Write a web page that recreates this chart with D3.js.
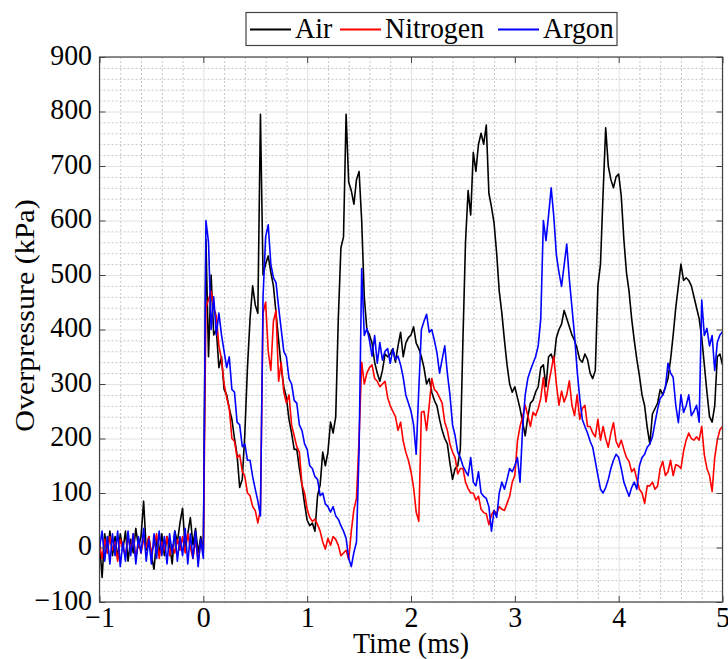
<!DOCTYPE html>
<html>

<head>
  <meta charset="utf-8">
  <title>Overpressure</title>
  <script src='https://d3js.org/d3.v7.min.js'></script>
  <style>
    body {
      margin: 0;
      background: white;
    }

    .minor line {
      stroke: #c6c6c6;
      stroke-dasharray: 2, 2;
    }

    .major line {
      stroke: #e2e2e2;
    }

    .grid .domain,
    .ticks .domain {
      stroke: none;
    }

    .ticks line {
      stroke: #444;
    }
  </style>
</head>

<body>
  <svg id="canvas" width="728" height="659"></svg>

  <script>
    // sampling times (ms): every 0.025 ms from -1 to 5
    const timeMs = d3.range(241).map(i => -1 + i * 0.025);

    // overpressure (kPa), one row = 0.25 ms
    const air = [
      10, -55, 25, -10, 30, -15, 20, -20, 25, -5,
      30, -25, 15, -10, 35, 0, 20, 85, -5, 20,
      -15, -40, 15, -10, 25, -15, 20, 5, -30, 30,
      10, 45, 72, 0, 25, 55, 5, 35, -10, 20,
      -5, 565, 350, 500, 390, 400, 330, 350, 290, 280,
      255, 235, 200, 170, 110, 125, 210, 330, 420, 480,
      445, 430, 795, 500, 520, 535, 505, 480, 430, 380,
      330, 295, 275, 235, 210, 180, 180, 145, 115, 80,
      50, 40, 45, 30, 95, 115, 175, 150, 175, 230,
      210, 240, 420, 550, 570, 795, 670, 655, 630, 675,
      690, 600, 460, 400, 390, 375, 340, 320, 305, 325,
      355, 350, 355, 365, 340, 370, 395, 350, 375, 385,
      390, 405, 375, 365, 350, 330, 300, 310, 285, 270,
      260, 235, 215, 200, 190, 155, 125, 145, 150, 180,
      380, 560, 655, 610, 725, 690, 740, 760, 740, 775,
      650, 625, 595, 540, 470, 430, 380, 335, 300, 285,
      295, 275, 255, 230, 205, 240, 265, 270, 285, 295,
      330, 335, 295, 350, 355, 340, 385, 400, 410, 435,
      420, 405, 390, 380, 365, 345, 340, 355, 345, 320,
      310, 325, 480, 520, 650, 770, 700, 675, 660, 680,
      685, 645, 565, 505, 470, 420, 380, 345, 315, 280,
      260, 220, 190, 245, 255, 265, 290, 280, 295, 310,
      345, 390, 440, 480, 520, 490, 495, 490, 480, 460,
      440, 420, 385, 335, 285, 240, 230, 260, 350, 355,
      335
    ];

    const nitrogen = [
      5, -20, 15, -10, 20, -5, 10, -25, 15, 0,
      -15, 20, -5, 25, -20, 10, -10, 15, 0, 20,
      -10, 5, 25, -20, 10, -5, 20, -15, 5, -10,
      15, -5, 20, -10, 25, 0, -20, 15, -25, 10,
      -10, 440, 455, 470, 440, 425, 370, 345, 300, 275,
      255, 200, 195, 165, 170, 140, 130, 100, 95, 75,
      68, 45, 70, 430, 450, 360, 325, 415, 435, 305,
      340, 285, 265, 280, 225, 205, 185, 175, 115, 100,
      70, 55, 48, 52, 42, 30, 10, -3, 17, 4,
      20, 15, 4, -15, -10, -5, -22, 30, 70, 90,
      200, 340, 300, 320, 330, 335, 310, 305, 295, 300,
      305, 275, 260, 250, 240, 215, 230, 195, 175, 160,
      139, 110, 65, 48, 248, 250, 215, 260, 310, 290,
      285, 275, 265, 230, 215, 190, 175, 165, 135, 145,
      145, 120, 108, 100, 100, 87, 94, 70, 64, 62,
      42, 60, 68, 62, 75, 70, 68, 81, 94, 120,
      132, 195, 222, 240, 261, 242, 222, 248, 242, 255,
      274, 312, 267, 300, 325, 351, 300, 261, 287, 267,
      280, 306, 261, 242, 280, 235, 255, 261, 222, 222,
      210, 203, 235, 197, 222, 200, 184, 210, 229, 195,
      184, 197, 180, 165, 158, 139, 145, 125, 107, 100,
      81, 113, 113, 120, 107, 113, 145, 158, 132, 139,
      160, 132, 152, 150, 145, 177, 197, 210, 200, 197,
      203, 197, 222, 170, 145, 132, 103, 165, 197, 216,
      222
    ];

    const argon = [
      0, 30, -25, 20, -30, 25, -15, 30, -35, 10,
      -25, 30, -15, 25, -30, 20, -10, 35, -25, 15,
      -30, 25, -20, 30, -15, 20, -30, 25, -10, 30,
      -25, 20, -15, 35, -30, 25, -20, 30, -35, 15,
      -20, 600, 560, 400, 460, 390, 430, 390, 360, 330,
      350, 290, 285, 230, 225, 185, 190, 160, 160, 130,
      107, 85, 58, 460, 570, 592, 520, 495, 486, 441,
      400, 360, 350, 310, 300, 270, 265, 225, 215, 190,
      180, 150, 145, 130, 125, 95, 100, 80, 75, 65,
      75, 58, 52, 40, 30, 17, -20, -35, -9, 10,
      180, 512, 389, 402, 380, 351, 389, 338, 376, 344,
      360, 365, 338, 364, 345, 351, 335, 312, 280, 265,
      250, 225, 171, 290, 400, 415, 428, 395, 400, 380,
      357, 320, 345, 370, 320, 280, 225, 205, 175, 165,
      150, 140, 132, 165, 120, 113, 139, 100, 94, 90,
      75, 30, 68, 55, 100, 120, 107, 125, 145, 139,
      150, 165, 120, 220, 280, 310, 325, 338, 350, 370,
      420, 600, 563, 610, 660, 608, 537, 505, 479, 518,
      557, 492, 441, 389, 325, 274, 235, 222, 210, 195,
      184, 158, 132, 107, 100, 110, 125, 145, 160, 171,
      165, 145, 120, 107, 94, 110, 120, 107, 150, 165,
      171, 184, 190, 203, 229, 254, 274, 280, 293, 338,
      320, 312, 261, 229, 280, 248, 260, 280, 242, 250,
      261, 230, 454, 389, 402, 370, 389, 325, 376, 390,
      396
    ];

    const seriesNames = ['Air', 'Nitrogen', 'Argon'];
    const seriesColors = ['black', 'red', 'blue'];
    const seriesValues = [air, nitrogen, argon];

    const xTicks = [-1, 0, 1, 2, 3, 4, 5];
    const yTicks = [-100, 0, 100, 200, 300, 400, 500, 600, 700, 800, 900];

    /** Dimensions and Scales */
    const svg = d3.select('svg#canvas');
    const margins = { top: 57, right: 5.5, bottom: 57, left: 99.5 };
    const chartWidth = 728 - margins.left - margins.right;
    const chartHeight = 659 - margins.top - margins.bottom;
    const serif = "'Liberation Serif', 'Times New Roman', 'DejaVu Serif', serif";
    const squeeze = 'scale(0.93,1)';

    const xScale = d3.scaleLinear().domain([-1, 5]).range([0, chartWidth]);
    const yScale = d3.scaleLinear().domain([-100, 900]).range([chartHeight, 0]);

    const chartArea = svg.append('g')
      .attr('transform', `translate(${margins.left}, ${margins.top})`);

    // minor grid every 0.2 ms and 20 kPa
    const xMinor = d3.range(-1, 5.001, 0.2).filter(v => Math.abs(v - Math.round(v)) > 0.01);
    const yMinor = d3.range(-100, 900.1, 20).filter(v => v % 100 !== 0);

    chartArea.append('g').attr('class', 'grid minor')
      .call(d3.axisBottom(xScale).tickValues(xMinor).tickSize(chartHeight).tickFormat(''));
    chartArea.append('g').attr('class', 'grid minor')
      .call(d3.axisLeft(yScale).tickValues(yMinor).tickSize(-chartWidth).tickFormat(''));
    chartArea.append('g').attr('class', 'grid major')
      .call(d3.axisBottom(xScale).tickValues(xTicks).tickSize(chartHeight).tickFormat(''));
    chartArea.append('g').attr('class', 'grid major')
      .call(d3.axisLeft(yScale).tickValues(yTicks).tickSize(-chartWidth).tickFormat(''));

    /** Traces */
    chartArea.append('clipPath').attr('id', 'clip')
      .append('rect').attr('width', chartWidth).attr('height', chartHeight);

    const line = d3.line()
      .x((d, i) => xScale(timeMs[i]))
      .y(d => yScale(d));

    seriesValues.forEach((values, k) => {
      chartArea.append('path')
        .datum(values)
        .attr('clip-path', 'url(#clip)')
        .attr('fill', 'none')
        .attr('stroke', seriesColors[k])
        .attr('stroke-width', 1.6)
        .attr('stroke-linejoin', 'round')
        .attr('d', line);
    });

    /** Box, ticks and labels */
    chartArea.append('rect')
      .attr('width', chartWidth)
      .attr('height', chartHeight)
      .attr('fill', 'none')
      .attr('stroke', '#444')
      .attr('stroke-width', 1.2);

    const yAxis = chartArea.append('g').attr('class', 'ticks')
      .call(d3.axisLeft(yScale).tickValues(yTicks).tickSize(-6).tickPadding(8)
        .tickFormat(d3.format('d')));
    yAxis.selectAll('text')
      .attr('dy', '0.24em')
      .attr('transform', squeeze)
      .style('font-family', serif)
      .style('font-size', '30px');

    const xAxis = chartArea.append('g').attr('class', 'ticks')
      .attr('transform', `translate(0, ${chartHeight})`)
      .call(d3.axisBottom(xScale).tickValues(xTicks).tickSize(-6).tickPadding(4)
        .tickFormat(d3.format('d')));
    xAxis.selectAll('text')
      .attr('transform', squeeze)
      .style('font-family', serif)
      .style('font-size', '30px');

    chartArea.append('g').attr('class', 'ticks')
      .call(d3.axisTop(xScale).tickValues(xTicks).tickSize(-6).tickFormat(''));
    chartArea.append('g').attr('class', 'ticks')
      .attr('transform', `translate(${chartWidth}, 0)`)
      .call(d3.axisRight(yScale).tickValues(yTicks).tickSize(-6).tickFormat(''));

    // x-axis label
    svg.append('text')
      .attr('text-anchor', 'middle')
      .attr('transform', `translate(${margins.left + chartWidth / 2}, 653) ${squeeze}`)
      .style('font-family', serif)
      .style('font-size', '30px')
      .text('Time (ms)');

    // y-axis label
    svg.append('text')
      .attr('text-anchor', 'middle')
      .attr('transform', `translate(34, ${margins.top + chartHeight / 2 - 14}) ${squeeze} rotate(-90)`)
      .style('font-family', serif)
      .style('font-size', '30px')
      .text('Overpressure (kPa)');

    /** Legend */
    const legendX = [250, 340, 498];
    const legend = svg.append('g');
    legend.append('rect')
      .attr('x', 246)
      .attr('y', 12.5)
      .attr('width', 371)
      .attr('height', 33)
      .attr('fill', 'white')
      .attr('stroke', '#444')
      .attr('stroke-width', 1.2);

    seriesNames.forEach((name, k) => {
      legend.append('line')
        .attr('x1', legendX[k])
        .attr('x2', legendX[k] + 41)
        .attr('y1', 29.5)
        .attr('y2', 29.5)
        .attr('stroke', seriesColors[k])
        .attr('stroke-width', 2);
      legend.append('text')
        .attr('transform', `translate(${legendX[k] + 45}, 37.5) ${squeeze}`)
        .style('font-family', serif)
        .style('font-size', '30px')
        .text(name);
    });
  </script>
</body>

</html>
